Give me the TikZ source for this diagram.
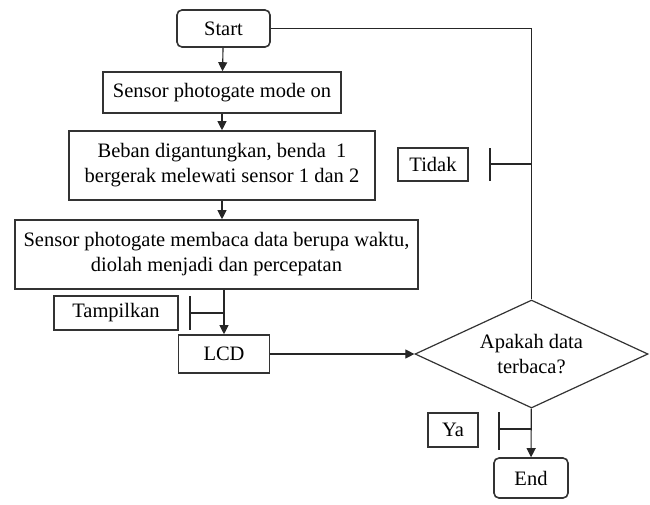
\documentclass[tikz,border=0pt]{standalone}
\usepackage{fontspec}
\setmainfont{Liberation Serif}
\usepackage{tikz}
\usetikzlibrary{calc,shapes.geometric,arrows.meta}
\tikzset{
% Flowchart boxes: plain step, rounded terminal, decision, side label
process box/.style={rectangle,draw=black!80,line width=1.6pt,inner sep=0,align=center},
terminal box/.style={process box,rounded corners=5pt},
decision box/.style={diamond,shape aspect=2.2,draw=black!80,line width=1.2pt,inner sep=0,align=center},
note box/.style={rectangle,draw=black!80,line width=1.4pt,inner sep=0},
flow/.style={line width=1.1pt,draw=black!85}
}

\begin{document}
\begin{tikzpicture}[x=1pt,y=-1pt,font=\rmfamily\fontsize{20.5}{25}\selectfont,>={Triangle[length=9pt,width=9pt]}]
\useasboundingbox (0,0) rectangle (650,504);
\node[terminal box,minimum width=93,minimum height=37] (start) at (223.5,28.5) {Start};
\node[process box,minimum width=238,minimum height=41] (mode) at (222,92.5) {Sensor photogate mode on};
\node[process box,minimum width=306,minimum height=69] (beban) at (222,165.5) {Beban digantungkan, benda\ \ 1\\bergerak melewati sensor 1 dan 2};
\node[process box,minimum width=403,minimum height=69] (baca) at (216.5,254.5) {Sensor photogate membaca data berupa waktu,\\diolah menjadi dan percepatan};
\node[process box,minimum width=91,minimum height=38] (lcd) at (224,354) {LCD};
\node[decision box,minimum width=233,minimum height=108] (cek) at (531.5,354) {Apakah data\\terbaca?};
\node[terminal box,minimum width=74,minimum height=40] (end) at (531,478) {End};

\node[note box,minimum width=124,minimum height=34] (tampil) at (116,313) {Tampilkan};
\node[note box,minimum width=70,minimum height=33] (tidak) at (433,164.5) {Tidak};
\node[note box,minimum width=50,minimum height=34] (ya) at (453,430) {Ya};

\draw[flow,->] (start) -- (mode);
\draw[flow,->] (mode) -- (beban);
\draw[flow,->] (beban) -- (beban |- baca.north);
\draw[flow,->] (baca.south -| lcd) -- (lcd);
\draw[flow,->] (lcd) -- (cek.west);
\draw[flow,->] (cek) -- (end);
\draw[flow] (start.east) -| (cek.north);

% side label brackets
\coordinate (tampil bar) at (190,313);
\draw[flow] (190,296) -- (190,330);
\draw[flow] (tampil bar) -- (tampil bar -| lcd);
\coordinate (tidak bar) at (490,164);
\draw[flow] (490,148) -- (490,181);
\draw[flow] (tidak bar) -- (tidak bar -| cek);
\coordinate (ya bar) at (499,429);
\draw[flow] (499,412) -- (499,450);
\draw[flow] (ya bar) -- (ya bar -| cek);
\end{tikzpicture}
\end{document}
